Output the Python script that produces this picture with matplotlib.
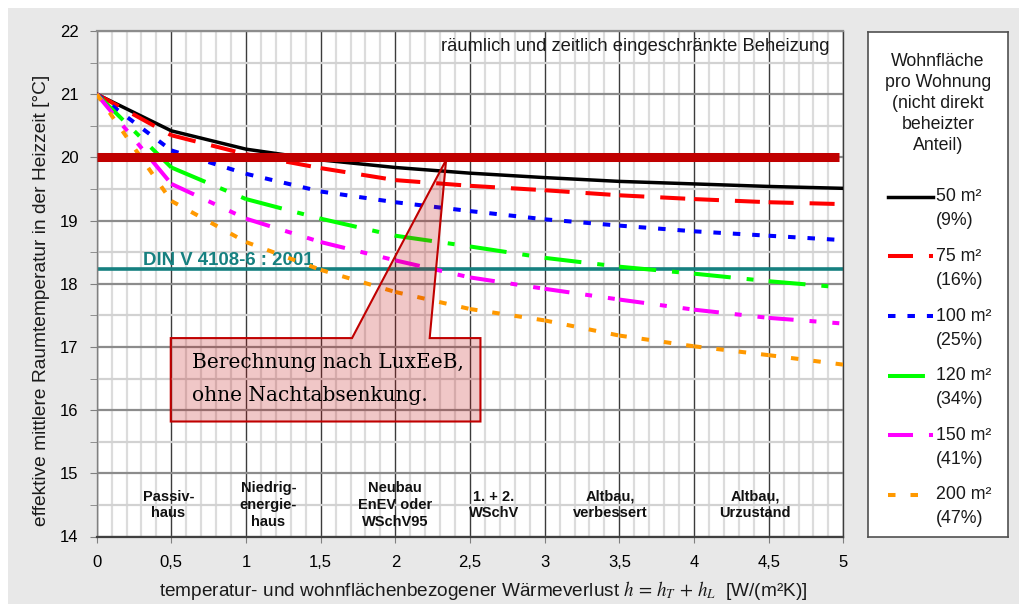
import matplotlib
matplotlib.use('Agg')
import matplotlib.pyplot as plt
from matplotlib.patches import Polygon, Rectangle
from matplotlib.lines import Line2D

plt.rcParams['font.family'] = ['Liberation Sans', 'DejaVu Sans']
plt.rcParams['mathtext.fontset'] = 'stix'
plt.rcParams['lines.scale_dashes'] = False

# ---------------- data ----------------
h_values = [0, 0.5, 1.0, 1.5, 2.0, 2.5, 3.0, 3.5, 4.0, 4.5, 5.0]
t_50 = [21, 20.42, 20.13, 19.96, 19.84, 19.75, 19.68, 19.62, 19.58, 19.54, 19.51]
t_75 = [21, 20.35, 20.05, 19.83, 19.64, 19.55, 19.48, 19.40, 19.34, 19.29, 19.26]
t_100 = [21, 20.11, 19.74, 19.46, 19.29, 19.15, 19.02, 18.92, 18.83, 18.76, 18.69]
t_120 = [21, 19.84, 19.34, 19.03, 18.76, 18.59, 18.41, 18.27, 18.16, 18.04, 17.94]
t_150 = [21, 19.58, 19.03, 18.66, 18.37, 18.10, 17.92, 17.75, 17.59, 17.46, 17.37]
t_200 = [21, 19.31, 18.66, 18.22, 17.87, 17.60, 17.42, 17.18, 17.01, 16.87, 16.72]

series_labels = ['50 m²', '75 m²', '100 m²', '120 m²', '150 m²', '200 m²']
series_shares = ['(9%)', '(16%)', '(25%)', '(34%)', '(41%)', '(47%)']
legend_title = 'Wohnfläche\npro Wohnung\n(nicht direkt\nbeheizter\nAnteil)'

x_ticks = [0, 0.5, 1, 1.5, 2, 2.5, 3, 3.5, 4, 4.5, 5]
x_tick_labels = ['0', '0,5', '1', '1,5', '2', '2,5', '3', '3,5', '4', '4,5', '5']
y_ticks = [14, 15, 16, 17, 18, 19, 20, 21, 22]

category_x = [0.48, 1.15, 2.0, 2.66, 3.44, 4.41]
category_labels = ['Passiv-\nhaus', 'Niedrig-\nenergie-\nhaus', 'Neubau\nEnEV oder\nWSchV95',
                   '1. + 2.\nWSchV', 'Altbau,\nverbessert', 'Altbau,\nUrzustand']

target_temp = 20.0
din_temp = 18.23

# ---------------- styles ----------------
colors = ['black', '#ff0000', '#0000ff', '#00ff00', '#ff00ff', '#ff9900']
dashes = [None,
          (18, 11.5),
          (5.4, 8.6),
          (26.6, 11.5, 5, 11.5),
          (18, 11.5, 5, 11.5, 5, 11.5),
          (5.4, 10.8)]
widths = [2.5, 2.9, 2.9, 2.9, 2.9, 2.9]
all_series = [t_50, t_75, t_100, t_120, t_150, t_200]

fig = plt.figure(figsize=(10.19, 6.04), dpi=100)
fig.patch.set_facecolor('white')
fig.patches.append(Rectangle((8 / 1019, 0), 1, 596 / 604, transform=fig.transFigure,
                             facecolor='#e8e8e8', edgecolor='none', zorder=-10))

ax = fig.add_axes([96.7 / 1019, 1 - 536.5 / 604, (843.3 - 96.7) / 1019, (536.5 - 31) / 604])
ax.set_facecolor('white')
ax.set_xlim(0, 5)
ax.set_ylim(14, 22)

ax.set_xticks(x_ticks)
ax.set_xticklabels(x_tick_labels, fontsize=12)
ax.set_xticks([i / 10 for i in range(51)], minor=True)
ax.set_yticks(y_ticks)
ax.set_yticklabels([str(v) for v in y_ticks], fontsize=12)
ax.set_yticks([14.5 + i for i in range(8)], minor=True)
ax.tick_params(axis='x', which='major', length=4, color='#808080', pad=9)
ax.tick_params(axis='x', which='minor', length=0)
ax.tick_params(axis='y', which='both', length=5, color='#808080', pad=8)
ax.set_axisbelow(True)
ax.grid(which='minor', axis='x', color='#dcdcdc', lw=1.6)
ax.grid(which='major', axis='x', color='#3c3c3c', lw=1.0)
ax.grid(which='minor', axis='y', color='#d2d2d2', lw=1.6)
ax.grid(which='major', axis='y', color='#8c8c8c', lw=1.6)
for s, c, w in [('left', '#808080', 1.0), ('bottom', '#404040', 1.6),
                ('top', '#8c8c8c', 1.6), ('right', '#3c3c3c', 1.0)]:
    ax.spines[s].set_color(c)
    ax.spines[s].set_linewidth(w)

# DIN reference line
ax.axhline(din_temp, color='#168080', lw=2.6, zorder=2)
ax.text(0.308, 18.30, 'DIN V 4108-6 : 2001', color='#168080', fontsize=13.4,
        fontweight='bold', ha='left', va='baseline', zorder=3)

# curves (dash pattern restarts at every data point, as in the original)
for ys, c, d, w in zip(all_series, colors, dashes, widths):
    if d is None:
        ax.plot(h_values, ys, color=c, lw=w, solid_joinstyle='round', zorder=4)
    else:
        for i in range(len(h_values) - 1):
            ax.plot(h_values[i:i + 2], ys[i:i + 2], color=c, lw=w,
                    dashes=d, dash_capstyle='butt', zorder=4)

# target line 20 °C
ax.plot([0, 4.97], [target_temp, target_temp], color='#c00000', lw=6.5,
        solid_capstyle='butt', zorder=5)

# top text
ax.text(4.91, 21.76, 'räumlich und zeitlich eingeschränkte Beheizung', fontsize=13.2,
        ha='right', va='center', color='#1a1a1a', zorder=6)

# categories
for cx, lab in zip(category_x, category_labels):
    ax.text(cx, 14.5, lab, ha='center', va='center', fontsize=10.5, fontweight='bold',
            linespacing=1.25, color='#111111', zorder=6)

# callout
callout = Polygon([(0.496, 17.14), (1.71, 17.14), (2.34, 19.96), (2.23, 17.14),
                   (2.57, 17.14), (2.57, 15.82), (0.496, 15.82)], closed=True,
                  facecolor=(0.75, 0.0, 0.0, 0.22), edgecolor='#c00000', lw=1.5, zorder=7)
ax.add_patch(callout)
ax.text(0.64, 16.49, 'Berechnung nach LuxEeB,\nohne Nachtabsenkung.', fontsize=14.5,
        family='DejaVu Serif', ha='left', va='center', linespacing=1.9, color='black', zorder=8)

# axis labels
fig.text(483 / 1019, 1 - 591 / 604,
         'temperatur- und wohnflächenbezogener Wärmeverlust $h\\,=\\,h_T\\,+\\,h_L$  [W/(m²K)]',
         fontsize=13.7, ha='center', va='center', color='#1a1a1a')
fig.text(42 / 1019, 1 - 300 / 604, 'effektive mittlere Raumtemperatur in der Heizzeit [°C]',
         fontsize=13.8, rotation=90, ha='center', va='center', color='#1a1a1a')

# ---------------- legend ----------------
lx0, lx1, ly0, ly1 = 868, 1007.7, 32, 536.7
lax = fig.add_axes([lx0 / 1019, 1 - ly1 / 604, (lx1 - lx0) / 1019, (ly1 - ly0) / 604])
lax.set_xlim(lx0, lx1)
lax.set_ylim(ly1, ly0)
lax.set_xticks([])
lax.set_yticks([])
lax.set_facecolor('white')
for s in lax.spines.values():
    s.set_color('#505050')
    s.set_linewidth(1.2)
lax.text((lx0 + lx1) / 2, 103.5, legend_title, ha='center', va='center', fontsize=12.8,
         linespacing=1.32, color='#1a1a1a')
entry_y = [196.7, 256.5, 316.3, 376, 435.5, 495]
for ey, lab, sh, c, d, w in zip(entry_y, series_labels, series_shares, colors, dashes, widths):
    if d is None:
        lax.add_line(Line2D([888, 933], [ey, ey], color=c, lw=w))
    else:
        lax.add_line(Line2D([888, 933], [ey, ey], color=c, lw=w, dashes=d, dash_capstyle='butt'))
    lax.text(936, ey, lab, ha='left', va='center', fontsize=12.8, color='#1a1a1a')
    lax.text(936, ey + 24, sh, ha='left', va='center', fontsize=12.8, color='#1a1a1a')

fig.savefig('out.png', dpi=100, facecolor=fig.get_facecolor())
